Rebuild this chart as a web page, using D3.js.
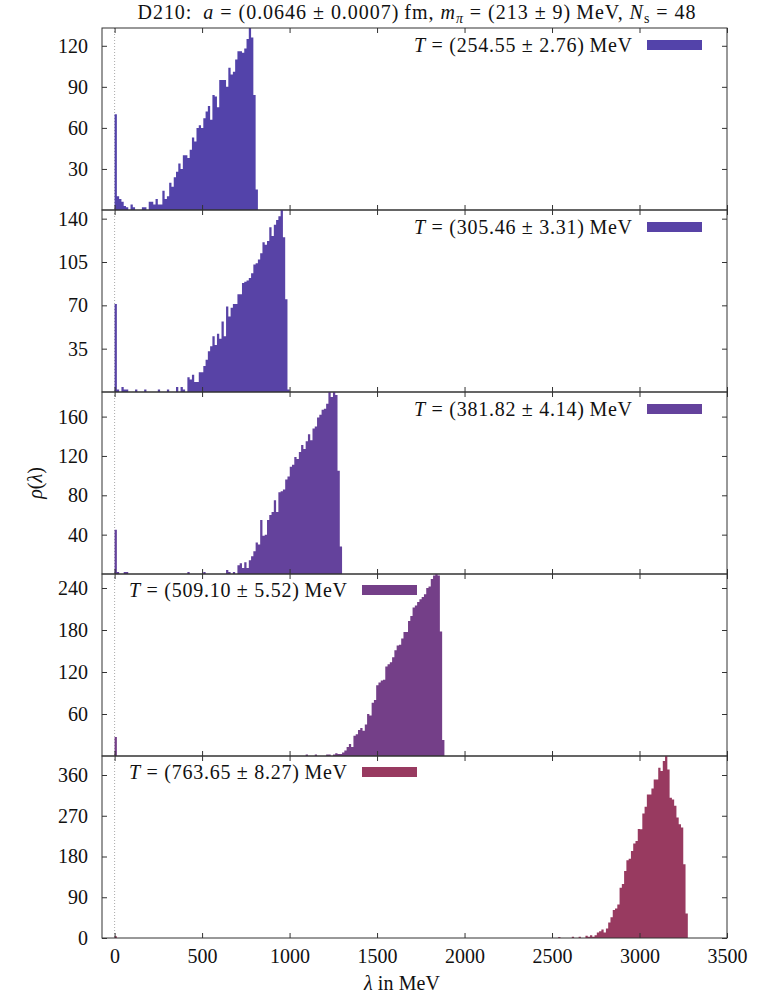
<!DOCTYPE html>
<html>
<head>
<meta charset="utf-8">
<script src="https://cdn.jsdelivr.net/npm/d3@7"></script>
<style>
  body { margin: 0; background: #fff; }
  text { font-family: "Liberation Serif", "DejaVu Serif", serif; fill: #111; }
</style>
</head>
<body>
<svg width="780" height="1003"></svg>
<script>
// histogram bin width in MeV, bins start at 0
var binWidth = 13;

var temps = ["254.55", "305.46", "381.82", "509.10", "763.65"];
var tempErrs = ["2.76", "3.31", "4.14", "5.52", "8.27"];

var rho1 = [70,10,8,6,3,2,0,4,2,0,0,0,2,2,0,6,6,4,8,4,4,14,8,10,20,17,24,28,34,30,
  40,40,38,44,53,50,60,62,60,67,72,76,66,84,83,75,95,95,95,90,104,99,101,110,116,116,
  115,118,125,133,126,84,15];

var rho2 = [71,2,0,4,2,2,0,0,0,2,0,0,0,2,0,0,0,0,0,2,0,0,0,2,0,0,0,4,0,4,2,0,
  12,10,14,8,8,16,16,21,26,33,37,45,38,47,43,57,45,69,61,68,71,71,79,79,88,89,90,92,
  96,103,104,107,112,121,119,122,133,126,135,139,142,147,125,75,2];

var rho3 = [45,2,0,0,2,2,
  0,0,0,0,0,0,0,0,0,0, 0,0,0,0,0,0,0,0,0,0, 0,0,0,0,0,0,
  2,0,0,0,0,0,0,2,0,0,0,0,0,0,0,0,0,4,2,0,2,0,
  9,11,6,12,6,14,18,23,32,30,55,39,40,55,60,63,75,63,83,84,86,96,99,109,111,119,117,
  124,131,127,135,142,136,148,150,159,162,167,168,173,185,180,185,182,105,28];

var rho4 = [27,
  0,0,0,0,0,0,0,0,0,0, 0,0,0,0,0,0,0,0,0,0, 0,0,0,0,0,0,0,0,0,0, 0,0,0,0,0,0,0,0,0,0,
  0,0,0,0,0,0,0,0,0,0, 0,0,0,0,0,0,0,0,0,0, 0,0,0,0,0,0,0,0,0,0, 0,0,0,0,0,0,0,0,0,0,
  0,0,0,
  2,0,0,0,2,0,0,0,0,2,2,0,2,4,3,3,5,
  8,13,17,13,29,31,37,40,36,45,60,58,76,80,101,105,108,109,128,131,134,141,151,158,
  159,168,177,177,193,200,212,215,220,224,227,231,240,242,253,258,260,258,178,23];

var rho5 = [4,
  0,0,0,0,0,0,0,0,0,0, 0,0,0,0,0,0,0,0,0,0, 0,0,0,0,0,0,0,0,0,0, 0,0,0,0,0,0,0,0,0,0,
  0,0,0,0,0,0,0,0,0,0, 0,0,0,0,0,0,0,0,0,0, 0,0,0,0,0,0,0,0,0,0, 0,0,0,0,0,0,0,0,0,0,
  0,0,0,0,0,0,0,0,0,0, 0,0,0,0,0,0,0,0,0,0, 0,0,0,0,0,0,0,0,0,0, 0,0,0,0,0,0,0,0,0,0,
  0,0,0,0,0,0,0,0,0,0, 0,0,0,0,0,0,0,0,0,0, 0,0,0,0,0,0,0,0,0,0, 0,0,0,0,0,0,0,0,0,0,
  0,0,0,0,0,0,0,0,0,0, 0,0,0,0,0,0,0,0,0,0, 0,0,0,0,0,0,0,0,0,0,
  0,0,0,0,
  2,0,0,0,0,0,3,0,0,3,0,0,5,3,6,3,6,
  12,15,19,12,21,34,46,62,65,74,111,119,148,172,175,192,209,214,241,240,
  275,290,317,317,330,350,350,376,369,391,402,372,310,306,292,266,251,244,163,54];

var series = [rho1, rho2, rho3, rho4, rho5];
var yTicks = [[30,60,90,120],[35,70,105,140],[40,80,120,160],[60,120,180,240],[0,90,180,270,360]];
var xTicks = [0,500,1000,1500,2000,2500,3000,3500];
var colors = ["#5343aa","#5843a6","#64429c","#743f88","#983a60"];

var svg = d3.select("svg");
var left = 102, right = 727, top0 = 28, panelH = 182;
var frameColor = "#333";

var x = d3.scaleLinear().domain([-72, 3500]).range([left, right]);

// title
var title = svg.append("text")
  .attr("x", (left + right) / 2 + 2).attr("y", 19)
  .attr("text-anchor", "middle").style("font-size", "20px")
  .attr("textLength", 558).attr("lengthAdjust", "spacing");
title.append("tspan").text("D210:\u2002");
title.append("tspan").attr("font-style", "italic").text("a");
title.append("tspan").text(" = (0.0646 \u00b1 0.0007)\u2009fm, ");
title.append("tspan").attr("font-style", "italic").text("m");
title.append("tspan").attr("dy", 4).style("font-size", "14px").attr("font-style", "italic").text("\u03c0");
title.append("tspan").attr("dy", -4).text(" = (213 \u00b1 9)\u2009MeV, ");
title.append("tspan").attr("font-style", "italic").text("N");
title.append("tspan").attr("dy", 4).style("font-size", "14px").text("s");
title.append("tspan").attr("dy", -4).text(" = 48");

series.forEach(function(rho, i) {
  var top = top0 + i * panelH, bottom = top + panelH;
  var y = d3.scaleLinear().domain([0, d3.max(rho)]).range([bottom, top]);
  var g = svg.append("g");

  g.append("clipPath").attr("id", "clip" + i)
    .append("rect").attr("x", left).attr("y", top)
    .attr("width", right - left).attr("height", panelH);

  // zero line
  g.append("line")
    .attr("x1", x(0)).attr("x2", x(0)).attr("y1", top).attr("y2", bottom)
    .attr("stroke", "#aaa").attr("stroke-width", 1).attr("stroke-dasharray", "1,2");

  // histogram as one stepped area: each bin from lo to lo + binWidth
  var pts = rho.map(function(v, k) { return { lam: k * binWidth, v: v }; });
  pts.push({ lam: rho.length * binWidth, v: 0 });

  var area = d3.area()
    .curve(d3.curveStepAfter)
    .x(d => x(d.lam))
    .y0(bottom)
    .y1(d => y(d.v));

  g.append("path")
    .attr("clip-path", "url(#clip" + i + ")")
    .datum(pts)
    .attr("d", area)
    .attr("fill", colors[i]);

  // axes, ticks inward
  var ax = [
    g.append("g").attr("transform", "translate(" + left + ",0)")
      .call(d3.axisLeft(y).tickValues(yTicks[i]).tickSizeInner(-5).tickSizeOuter(0).tickPadding(14)),
    g.append("g").attr("transform", "translate(" + right + ",0)")
      .call(d3.axisRight(y).tickValues(yTicks[i]).tickSizeInner(-5).tickSizeOuter(0).tickFormat("")),
    g.append("g").attr("transform", "translate(0," + top + ")")
      .call(d3.axisTop(x).tickValues(xTicks).tickSizeInner(-5).tickSizeOuter(0).tickFormat("")),
    g.append("g").attr("transform", "translate(0," + bottom + ")")
      .call(d3.axisBottom(x).tickValues(xTicks).tickSizeInner(-5).tickSizeOuter(0).tickPadding(11)
        .tickFormat(i === series.length - 1 ? d3.format("d") : ""))
  ];
  ax.forEach(function(a) {
    a.select(".domain").remove();
    a.selectAll("line").attr("stroke", frameColor);
    a.selectAll("text").style("font-size", "20px").style("font-family", null).attr("fill", "#111");
  });

  g.append("rect")
    .attr("x", left).attr("y", top).attr("width", right - left).attr("height", panelH)
    .attr("fill", "none").attr("stroke", frameColor).attr("stroke-width", 1);

  // key
  var keyX = i < 3 ? 647 : 362;
  var keyY = i < 3 ? top + 12 : top + 11;
  g.append("rect").attr("x", keyX).attr("y", keyY).attr("width", 55).attr("height", 10)
    .attr("fill", colors[i]);
  var t = g.append("text").attr("x", keyX - 15).attr("y", keyY + 12)
    .attr("text-anchor", "end").style("font-size", "20px")
    .attr("textLength", 218).attr("lengthAdjust", "spacing");
  t.append("tspan").attr("font-style", "italic").text("T");
  t.append("tspan").text(" = (" + temps[i] + " \u00b1 " + tempErrs[i] + ")\u2009MeV");
});

// axis labels
var yl = svg.append("text")
  .attr("transform", "translate(42," + (top0 + 2.5 * panelH) + ") rotate(-90)")
  .attr("text-anchor", "middle").style("font-size", "20px");
yl.append("tspan").attr("font-style", "italic").text("\u03c1");
yl.append("tspan").text("(");
yl.append("tspan").attr("font-style", "italic").text("\u03bb");
yl.append("tspan").text(")");

var xl = svg.append("text")
  .attr("x", 402).attr("y", 990)
  .attr("text-anchor", "middle").style("font-size", "20px")
  .attr("textLength", 76).attr("lengthAdjust", "spacing");
xl.append("tspan").attr("font-style", "italic").text("\u03bb");
xl.append("tspan").text(" in MeV");
</script>
</body>
</html>
